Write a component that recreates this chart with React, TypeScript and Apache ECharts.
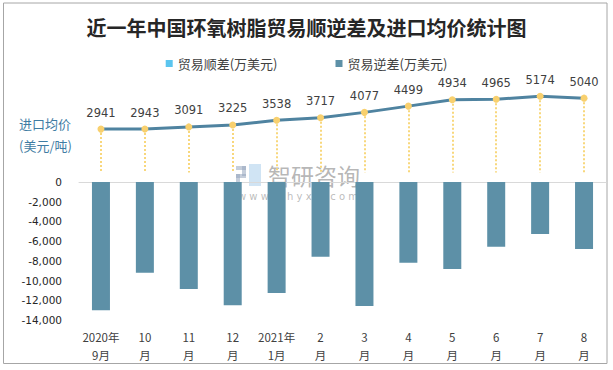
import React, { useEffect, useRef } from "react";
import * as echarts from "echarts";

const categories = ["2020年\n9月", "10\n月", "11\n月", "12\n月", "2021年\n1月", "2\n月", "3\n月", "4\n月", "5\n月", "6\n月", "7\n月", "8\n月"];
const surplus: (number | null)[] = [null, null, null, null, null, null, null, null, null, null, null, null];
const deficit = [-13000, -9200, -10850, -12500, -11250, -7580, -12580, -8190, -8830, -6560, -5280, -6800];
const avgPrice = [2941, 2943, 3091, 3225, 3538, 3717, 4077, 4499, 4934, 4965, 5174, 5040];
const barTicks = { min: -14000, max: 0, interval: 2000 };
const priceRange = { min: 0, max: 6000 };

export default function App() {
  const ref = useRef<HTMLDivElement>(null);
  useEffect(() => {
    if (!ref.current) return;
    const chart = echarts.init(ref.current, undefined, { renderer: "svg" });
    const font = "DejaVu Sans";
    const cjk = "Noto Sans CJK SC";
    const gridL = 79;
    const gridR = 7;
    chart.setOption({
      animation: false,
      backgroundColor: "#ffffff",
      title: {
        text: "近一年中国环氧树脂贸易顺逆差及进口均价统计图",
        left: "center",
        top: 12,
        textStyle: { fontFamily: cjk, fontSize: 20, fontWeight: "bold", color: "#262626" },
      },
      legend: {
        left: "center",
        top: 52,
        itemWidth: 7,
        itemHeight: 7,
        itemGap: 58,
        icon: "rect",
        textStyle: { fontFamily: cjk, fontSize: 13, color: "#404040" },
        data: ["贸易顺差(万美元)", "贸易逆差(万美元)"],
      },
      grid: [
        { left: gridL, right: gridR, top: 84, height: 88.5 },
        { left: gridL, right: gridR, top: 182, bottom: 50 },
      ],
      xAxis: [
        { type: "category", gridIndex: 0, data: categories, show: false },
        {
          type: "category",
          gridIndex: 1,
          data: categories,
          position: "bottom",
          axisLine: { show: false },
          axisTick: { show: false },
          axisLabel: { interval: 0, fontFamily: cjk, fontSize: 11.5, color: "#404040", lineHeight: 18, margin: 8 },
        },
        {
          type: "category",
          gridIndex: 1,
          data: categories,
          position: "top",
          axisLine: { show: true, onZero: false, lineStyle: { color: "#d9d9d9", width: 1 } },
          axisTick: { show: false },
          axisLabel: { show: false },
        },
      ],
      yAxis: [
        { type: "value", gridIndex: 0, min: priceRange.min, max: priceRange.max, show: false },
        {
          type: "value",
          gridIndex: 1,
          min: barTicks.min,
          max: barTicks.max,
          interval: barTicks.interval,
          axisLine: { show: false },
          axisTick: { show: false },
          splitLine: { show: false },
          axisLabel: {
            fontFamily: font,
            fontSize: 10.5,
            color: "#262626",
            margin: 17,
            formatter: (v: number) => (v === 0 ? "0" : v.toLocaleString("en-US")),
          },
        },
      ],
      series: [
        {
          name: "贸易顺差(万美元)",
          type: "bar",
          xAxisIndex: 1,
          yAxisIndex: 1,
          data: surplus,
          itemStyle: { color: "#5bc5ef" },
        },
        {
          name: "贸易逆差(万美元)",
          type: "bar",
          xAxisIndex: 1,
          yAxisIndex: 1,
          data: deficit,
          barWidth: 18,
          barGap: "-100%",
          itemStyle: { color: "#5d90a7" },
        },
        {
          name: "进口均价",
          type: "line",
          xAxisIndex: 0,
          yAxisIndex: 0,
          data: avgPrice,
          symbol: "circle",
          symbolSize: 7,
          lineStyle: { color: "#4f83a0", width: 3 },
          itemStyle: { color: "#f8d06e" },
          label: {
            show: true,
            position: "top",
            distance: 7,
            fontFamily: font,
            fontSize: 11.5,
            color: "#404040",
          },
          z: 5,
          markLine: {
            silent: true,
            symbol: "none",
            label: { show: false },
            lineStyle: { color: "#f8d77c", type: [2, 2], width: 2 },
            data: avgPrice.map((v, i) => [
              { coord: [i, v] },
              { coord: [i, priceRange.min] },
            ]),
          },
        },
      ],
      graphic: [
        {
          type: "rect",
          shape: { x: 3.5, y: 3, width: 603.5, height: 360.5 },
          style: { fill: "none", stroke: "#a6a6a6", lineWidth: 1 },
          silent: true,
        },
        {
          type: "text",
          left: 19,
          top: 112,
          style: {
            text: "进口均价\n(美元/吨)",
            fontFamily: cjk,
            fontSize: 13,
            lineHeight: 22,
            fill: "#3f7ca3",
          },
        },
        {
          type: "group",
          left: 236,
          top: 163,
          silent: true,
          children: [
            { type: "rect", shape: { x: 0, y: 2, width: 10, height: 4 }, style: { fill: "rgba(150,165,190,0.55)" } },
            { type: "rect", shape: { x: 6, y: 2, width: 4, height: 10 }, style: { fill: "rgba(150,165,190,0.55)" } },
            { type: "rect", shape: { x: 0, y: 10, width: 10, height: 4 }, style: { fill: "rgba(150,165,190,0.55)" } },
            { type: "rect", shape: { x: 0, y: 10, width: 4, height: 12 }, style: { fill: "rgba(150,165,190,0.55)" } },
            { type: "rect", shape: { x: 13, y: 0, width: 12, height: 22 }, style: { fill: "rgba(170,205,235,0.55)" } },
            {
              type: "text",
              x: 32,
              y: -1,
              style: { text: "智研咨询", fontFamily: cjk, fontSize: 23, lineHeight: 24, fill: "rgba(120,120,120,0.55)" },
            },
            {
              type: "text",
              x: 2,
              y: 27,
              style: { text: "w w w . c h y x x . c o m", fontFamily: font, fontSize: 10, lineHeight: 11, fill: "rgba(120,120,120,0.5)" },
            },
          ],
        },
      ],
    });
    return () => chart.dispose();
  }, []);
  return (
    <div
      ref={ref}
      style={{ position: "absolute", left: 0, top: 0, width: 613, height: 370 }}
    />
  );
}
